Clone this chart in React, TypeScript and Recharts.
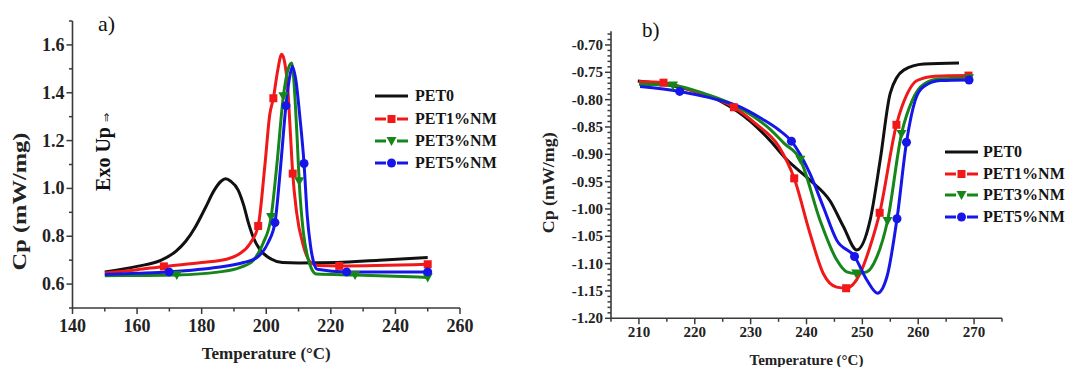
import React from "react";
import { Legend, Line, LineChart, XAxis, YAxis } from "recharts";

type Pt = { t: number; cp: number };

const seriesNames = ["PET0", "PET1%NM", "PET3%NM", "PET5%NM"];
const seriesColors = ["#111111", "#f01818", "#16861b", "#1616e8"];
const seriesShapes = ["none", "square", "triangle", "circle"];

// a) crystallisation (cooling) curves
const pet0A: Pt[] = [
  { t: 150, cp: 0.651 }, { t: 160, cp: 0.674 }, { t: 167.5, cp: 0.7 }, { t: 172, cp: 0.737 },
  { t: 175, cp: 0.778 }, { t: 178, cp: 0.838 }, { t: 181, cp: 0.915 }, { t: 184, cp: 0.995 },
  { t: 186, cp: 1.03 }, { t: 187.4, cp: 1.04 }, { t: 189, cp: 1.03 }, { t: 191.3, cp: 0.993 },
  { t: 193, cp: 0.93 }, { t: 194.5, cp: 0.855 }, { t: 196, cp: 0.795 }, { t: 198, cp: 0.745 },
  { t: 201.5, cp: 0.705 }, { t: 205, cp: 0.69 }, { t: 210, cp: 0.688 }, { t: 222, cp: 0.69 },
  { t: 235, cp: 0.7 }, { t: 250, cp: 0.711 }
];
const pet1A: Pt[] = [
  { t: 150, cp: 0.646 }, { t: 160, cp: 0.66 }, { t: 168.3, cp: 0.674 }, { t: 180, cp: 0.69 },
  { t: 188, cp: 0.705 }, { t: 191.5, cp: 0.725 }, { t: 195, cp: 0.77 }, { t: 197.5, cp: 0.843 },
  { t: 199.6, cp: 1.1 }, { t: 201.1, cp: 1.31 }, { t: 202.2, cp: 1.377 }, { t: 203.5, cp: 1.49 },
  { t: 204.8, cp: 1.561 }, { t: 205.8, cp: 1.52 }, { t: 206.6, cp: 1.43 }, { t: 207.4, cp: 1.25 },
  { t: 208.2, cp: 1.062 }, { t: 209.4, cp: 0.9 }, { t: 211.5, cp: 0.76 }, { t: 213.8, cp: 0.69 },
  { t: 216, cp: 0.678 }, { t: 222.6, cp: 0.676 }, { t: 250, cp: 0.683 }
];
const pet3A: Pt[] = [
  { t: 150, cp: 0.635 }, { t: 160, cp: 0.636 }, { t: 172.3, cp: 0.638 }, { t: 185, cp: 0.65 },
  { t: 192, cp: 0.67 }, { t: 196, cp: 0.7 }, { t: 199, cp: 0.77 }, { t: 201.5, cp: 0.88 },
  { t: 203.3, cp: 1.1 }, { t: 205.3, cp: 1.385 }, { t: 206.8, cp: 1.5 }, { t: 207.9, cp: 1.524 },
  { t: 208.9, cp: 1.38 }, { t: 209.6, cp: 1.2 }, { t: 210.2, cp: 1.03 }, { t: 211.5, cp: 0.815 },
  { t: 212.7, cp: 0.72 }, { t: 214, cp: 0.665 }, { t: 215.6, cp: 0.642 }, { t: 227.5, cp: 0.638 },
  { t: 250, cp: 0.628 }
];
const pet5A: Pt[] = [
  { t: 150, cp: 0.64 }, { t: 160, cp: 0.645 }, { t: 169.9, cp: 0.651 }, { t: 185, cp: 0.67 },
  { t: 193, cp: 0.69 }, { t: 197, cp: 0.71 }, { t: 200.6, cp: 0.774 }, { t: 202.7, cp: 0.857 },
  { t: 204.5, cp: 1.1 }, { t: 206.1, cp: 1.346 }, { t: 207.3, cp: 1.47 }, { t: 208.1, cp: 1.51 },
  { t: 209.2, cp: 1.45 }, { t: 210.4, cp: 1.3 }, { t: 211.7, cp: 1.104 }, { t: 212.7, cp: 0.885 },
  { t: 213.7, cp: 0.76 }, { t: 214.7, cp: 0.69 }, { t: 215.8, cp: 0.662 }, { t: 224.9, cp: 0.651 },
  { t: 250, cp: 0.651 }
];
const marksA = [
  [],
  [168.3, 197.5, 202.2, 208.2, 222.6, 250],
  [172.3, 201.5, 205.3, 210.2, 227.5, 250],
  [169.9, 202.7, 206.1, 211.7, 224.9, 250]
];

// b) melting (heating) curves
const pet0B: Pt[] = [
  { t: 209.8, cp: -0.766 }, { t: 215, cp: -0.773 }, { t: 220, cp: -0.785 }, { t: 225, cp: -0.805 },
  { t: 230, cp: -0.84 }, { t: 233.5, cp: -0.875 }, { t: 236.5, cp: -0.91 }, { t: 240.6, cp: -0.947 },
  { t: 244.2, cp: -0.985 }, { t: 246.6, cp: -1.032 }, { t: 249, cp: -1.075 }, { t: 251.4, cp: -1.02 },
  { t: 253.2, cp: -0.91 }, { t: 255, cp: -0.788 }, { t: 257.4, cp: -0.746 }, { t: 261, cp: -0.735 },
  { t: 267.3, cp: -0.733 }
];
const pet1B: Pt[] = [
  { t: 210, cp: -0.767 }, { t: 214.4, cp: -0.769 }, { t: 220, cp: -0.785 }, { t: 227, cp: -0.814 },
  { t: 231, cp: -0.845 }, { t: 235, cp: -0.885 }, { t: 237.8, cp: -0.944 }, { t: 240.6, cp: -1.044 },
  { t: 243, cp: -1.118 }, { t: 245.4, cp: -1.143 }, { t: 247.1, cp: -1.145 }, { t: 249.6, cp: -1.118 },
  { t: 251.5, cp: -1.065 }, { t: 253.1, cp: -1.007 }, { t: 256.1, cp: -0.846 }, { t: 258, cp: -0.79 },
  { t: 259.8, cp: -0.765 }, { t: 263, cp: -0.757 }, { t: 269, cp: -0.756 }
];
const pet3B: Pt[] = [
  { t: 210, cp: -0.772 }, { t: 216.1, cp: -0.774 }, { t: 222, cp: -0.79 }, { t: 228, cp: -0.815 },
  { t: 233, cp: -0.85 }, { t: 236, cp: -0.88 }, { t: 238.9, cp: -0.91 }, { t: 242.4, cp: -1.02 },
  { t: 245.4, cp: -1.093 }, { t: 247.2, cp: -1.115 }, { t: 248.9, cp: -1.118 }, { t: 250.8, cp: -1.115 },
  { t: 252.5, cp: -1.09 }, { t: 254.5, cp: -1.022 }, { t: 257, cp: -0.863 }, { t: 259, cp: -0.8 },
  { t: 261, cp: -0.772 }, { t: 264, cp: -0.762 }, { t: 269.1, cp: -0.761 }
];
const pet5B: Pt[] = [
  { t: 210.2, cp: -0.776 }, { t: 217.3, cp: -0.785 }, { t: 222, cp: -0.795 }, { t: 227.8, cp: -0.812 },
  { t: 232, cp: -0.835 }, { t: 235, cp: -0.855 }, { t: 237.3, cp: -0.876 }, { t: 240.6, cp: -0.935 },
  { t: 243, cp: -0.996 }, { t: 245.4, cp: -1.057 }, { t: 248.6, cp: -1.087 }, { t: 250.8, cp: -1.13 },
  { t: 252.7, cp: -1.154 }, { t: 254.4, cp: -1.124 }, { t: 256.2, cp: -1.018 }, { t: 257.9, cp: -0.878 },
  { t: 259.5, cp: -0.8 }, { t: 261, cp: -0.776 }, { t: 264, cp: -0.765 }, { t: 269.1, cp: -0.764 }
];
const marksB = [
  [],
  [214.4, 227, 237.8, 247.1, 253.1, 256.1, 269],
  [216.1, 238.9, 248.9, 254.5, 257, 269.1],
  [217.3, 237.3, 248.6, 256.2, 257.9, 269.1]
];

// axis ticks
const xMajorA = [140, 160, 180, 200, 220, 240, 260];
const yMajorA = [0.6, 0.8, 1.0, 1.2, 1.4, 1.6];
const xMajorB = [210, 220, 230, 240, 250, 260, 270];
const yMajorB = [-1.2, -1.15, -1.1, -1.05, -1.0, -0.95, -0.9, -0.85, -0.8, -0.75, -0.7];

const range = (a: number, b: number, step: number) => {
  const out: number[] = [];
  for (let i = 0; a + i * step <= b + 1e-9; i++) out.push(+(a + i * step).toFixed(4));
  return out;
};
const xTicksA = range(140, 260, 10);
const yTicksA = range(0.5, 1.7, 0.1);
const xTicksB = range(205, 275, 5);
const yTicksB = range(-1.2, -0.68, 0.01);

const font = '"Liberation Serif", "Times New Roman", serif';
const axisColor = "#3a3a3a";
const isMajor = (v: number, majors: number[]) => majors.some((m) => Math.abs(m - v) < 1e-6);

function Marker({ cx, cy, color, shape }: any) {
  if (shape === "square") return <rect x={cx - 4} y={cy - 4} width={8} height={8} fill={color} />;
  if (shape === "triangle") return <path d={`M${cx - 5},${cy - 4}L${cx + 5},${cy - 4}L${cx},${cy + 5}Z`} fill={color} />;
  if (shape === "circle") return <circle cx={cx} cy={cy} r={4.5} fill={color} />;
  return null;
}

function XTick({ x, y, payload, majors, labelPx, shift }: any) {
  const major = isMajor(payload.value, majors);
  return (
    <g>
      <line x1={x} x2={x} y1={y} y2={y + (major ? 6 : 3.5)} stroke={axisColor} strokeWidth={1.5} />
      {major && (
        <text x={x} y={y + shift} textAnchor="middle" fill="#222" style={{ fontFamily: font, fontWeight: 700, fontSize: labelPx }}>
          {payload.value}
        </text>
      )}
    </g>
  );
}

function YTick({ x, y, payload, majors, labelPx, shift, digits }: any) {
  const major = isMajor(payload.value, majors);
  return (
    <g>
      <line x1={x} x2={x - (major ? 6 : 3.5)} y1={y} y2={y} stroke={axisColor} strokeWidth={1.5} />
      {major && (
        <text x={x - 8} y={y + shift} textAnchor="end" fill="#222" style={{ fontFamily: font, fontWeight: 700, fontSize: labelPx }}>
          {payload.value.toFixed(digits)}
        </text>
      )}
    </g>
  );
}

function LegendBox({ labelPx, rowH, gap }: any) {
  return (
    <div style={{ fontFamily: font, fontWeight: "bold", fontSize: labelPx, color: "#151515" }}>
      {seriesNames.map((name, i) => (
        <div key={name} style={{ display: "flex", alignItems: "center", height: rowH }}>
          <svg width={33} height={12}>
            {i === 0 ? (
              <line x1={0} x2={33} y1={6} y2={6} stroke={seriesColors[i]} strokeWidth={3} />
            ) : (
              <g>
                <line x1={0} x2={11} y1={6} y2={6} stroke={seriesColors[i]} strokeWidth={3} />
                <line x1={22} x2={33} y1={6} y2={6} stroke={seriesColors[i]} strokeWidth={3} />
                <Marker cx={16.5} cy={6} color={seriesColors[i]} shape={seriesShapes[i]} />
              </g>
            )}
          </svg>
          <span style={{ marginLeft: gap, lineHeight: 1 }}>{name}</span>
        </div>
      ))}
    </div>
  );
}

const makeDot = (i: number, marks: number[]) => (props: any) => {
  const { cx, cy, payload, index } = props;
  if (cx == null || cy == null || !marks.includes(payload.t)) return <g key={`d-${i}-${index}`} />;
  return (
    <g key={`d-${i}-${index}`}>
      <Marker cx={cx} cy={cy} color={seriesColors[i]} shape={seriesShapes[i]} />
    </g>
  );
};

const curvesA = [pet0A, pet1A, pet3A, pet5A];
const curvesB = [pet0B, pet1B, pet3B, pet5B];

const titleStyle = { fontFamily: font, fontWeight: 700 };

export default function App() {
  return (
    <div style={{ position: "absolute", left: 0, top: 0, width: 1070, height: 367, background: "#fff", overflow: "hidden", fontFamily: font }}>
      {/* a) */}
      <div style={{ position: "absolute", left: 0, top: 0 }}>
        <LineChart width={540} height={367} margin={{ top: 21, right: 80, bottom: 0, left: 0 }}>
          <XAxis
            type="number"
            dataKey="t"
            domain={[140, 260]}
            ticks={xTicksA}
            interval={0}
            allowDataOverflow
            height={59}
            tickSize={0}
            tickMargin={0}
            tickLine={false}
            axisLine={{ stroke: axisColor, strokeWidth: 1.6 }}
            tick={<XTick majors={xMajorA} labelPx={18} shift={24} />}
            label={{
              content: (p: any) => (
                <text x={p.viewBox.x + p.viewBox.width / 2} y={p.viewBox.y + 51} textAnchor="middle" fill="#222" style={{ ...titleStyle, fontSize: 17 }}>
                  Temperature (°C)
                </text>
              )
            }}
          />
          <YAxis
            type="number"
            dataKey="cp"
            domain={[0.5, 1.7]}
            ticks={yTicksA}
            interval={0}
            allowDataOverflow
            width={72.5}
            tickSize={0}
            tickMargin={0}
            tickLine={false}
            axisLine={{ stroke: axisColor, strokeWidth: 1.6 }}
            tick={<YTick majors={yMajorA} labelPx={18} shift={6} digits={1} />}
            label={{
              content: (p: any) => (
                <text
                  transform={`translate(${p.viewBox.x + 26},${p.viewBox.y + p.viewBox.height / 2 + 37}) rotate(-90)`}
                  textAnchor="middle"
                  textLength={138}
                  lengthAdjust="spacingAndGlyphs"
                  fill="#222"
                  style={{ ...titleStyle, fontSize: 19 }}
                >
                  Cp (mW/mg)
                </text>
              )
            }}
          />
          {curvesA.map((d, i) => (
            <Line
              key={seriesNames[i]}
              data={d}
              dataKey="cp"
              name={seriesNames[i]}
              type="monotone"
              stroke={seriesColors[i]}
              strokeWidth={3}
              dot={makeDot(i, marksA[i])}
              activeDot={false}
              isAnimationActive={false}
            />
          ))}
          <Legend
            layout="vertical"
            align="center"
            verticalAlign="middle"
            wrapperStyle={{ left: 375, top: 85, width: 150 }}
            content={() => <LegendBox labelPx={16} rowH={22.4} gap={7} />}
          />
        </LineChart>
      </div>

      {/* b) */}
      <div style={{ position: "absolute", left: 540, top: 0 }}>
        <LineChart width={530} height={367} margin={{ top: 31.3, right: 68, bottom: 0, left: 0 }}>
          <XAxis
            type="number"
            dataKey="t"
            domain={[205, 275]}
            ticks={xTicksB}
            interval={0}
            allowDataOverflow
            height={48.7}
            tickSize={0}
            tickMargin={0}
            tickLine={false}
            axisLine={{ stroke: axisColor, strokeWidth: 1.6 }}
            tick={<XTick majors={xMajorB} labelPx={15} shift={19} />}
            label={{
              content: (p: any) => (
                <text x={p.viewBox.x + p.viewBox.width / 2} y={p.viewBox.y + 47} textAnchor="middle" fill="#222" style={{ ...titleStyle, fontSize: 15 }}>
                  Temperature (°C)
                </text>
              )
            }}
          />
          <YAxis
            type="number"
            dataKey="cp"
            domain={[-1.2, -0.675]}
            ticks={yTicksB}
            interval={0}
            allowDataOverflow
            width={71}
            tickSize={0}
            tickMargin={0}
            tickLine={false}
            axisLine={{ stroke: axisColor, strokeWidth: 1.6 }}
            tick={<YTick majors={yMajorB} labelPx={15} shift={5} digits={2} />}
            label={{
              content: (p: any) => (
                <text
                  transform={`translate(${p.viewBox.x + 14},${p.viewBox.y + p.viewBox.height / 2 + 8}) rotate(-90)`}
                  textAnchor="middle"
                  textLength={101}
                  lengthAdjust="spacingAndGlyphs"
                  fill="#222"
                  style={{ ...titleStyle, fontSize: 16 }}
                >
                  Cp (mW/mg)
                </text>
              )
            }}
          />
          {curvesB.map((d, i) => (
            <Line
              key={seriesNames[i]}
              data={d}
              dataKey="cp"
              name={seriesNames[i]}
              type="monotone"
              stroke={seriesColors[i]}
              strokeWidth={3}
              dot={makeDot(i, marksB[i])}
              activeDot={false}
              isAnimationActive={false}
            />
          ))}
          <Legend
            layout="vertical"
            align="center"
            verticalAlign="middle"
            wrapperStyle={{ left: 405, top: 141, width: 130 }}
            content={() => <LegendBox labelPx={16} rowH={21.7} gap={5} />}
          />
        </LineChart>
      </div>

      {/* panel annotations */}
      <svg width={1070} height={367} style={{ position: "absolute", left: 0, top: 0, pointerEvents: "none" }}>
        <text x={98} y={31} fill="#111" style={{ fontFamily: font, fontSize: 22 }}>a)</text>
        <text x={642} y={37} fill="#111" style={{ fontFamily: font, fontSize: 21 }}>b)</text>
        <text transform="translate(110,152) rotate(-90)" textAnchor="middle" fill="#111" style={{ ...titleStyle, fontSize: 20 }}>
          Exo Up
          <tspan dx={5} style={{ fontSize: 11, fontWeight: 400 }}>⇒</tspan>
        </text>
      </svg>
    </div>
  );
}
